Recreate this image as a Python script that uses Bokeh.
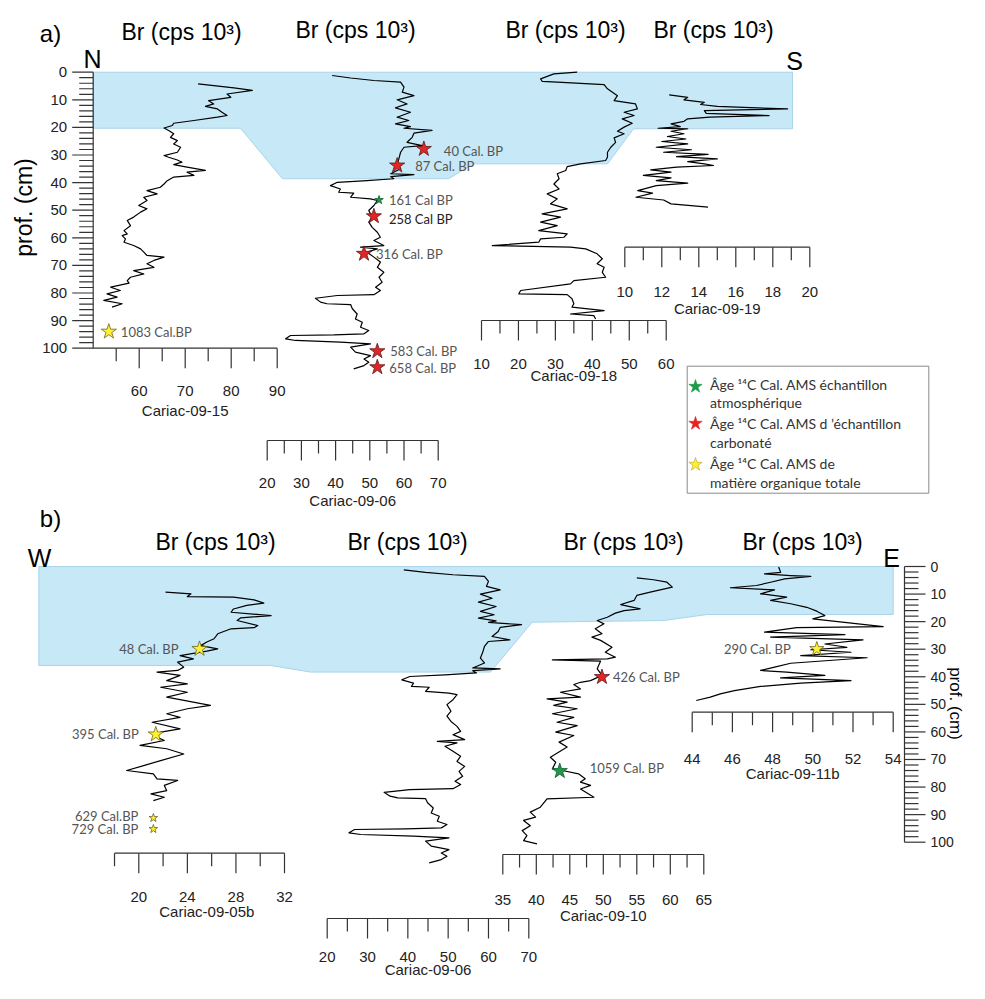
import math
from bokeh.plotting import figure
from bokeh.models import Range1d
from bokeh.embed import file_html
from bokeh.resources import INLINE
from bokeh.core.properties import value

# ---------------- DATA (depth in cm, Br in cps 10^3) ----------------
c15_depth = [4.2, 5.7, 6.6, 7.9, 9.1, 10.3, 11.5, 12.4, 13.3, 14.5, 15.7, 16.3, 17.5, 18.5, 19.3,
             20.2, 21.1, 22.3, 23.6, 24.8, 26.0, 27.2, 29.0, 30.2, 30.8, 31.8, 32.6, 33.5, 34.4, 35.6,
             36.2, 37.4, 38.0, 39.3, 40.5, 41.7, 42.9, 44.1, 45.3, 46.5, 48.3, 49.5, 50.7, 52.5, 53.7,
             55.6, 57.4, 58.6, 59.2, 60.4, 61.6, 62.8, 64.0, 65.2, 66.4, 67.0, 68.2, 69.4, 70.7, 71.9,
             73.1, 74.3, 75.5, 76.4, 77.9, 79.1, 80.3, 81.5, 82.7, 83.9, 85.1]
c15_br = [72.8, 80.6, 84.6, 79.1, 79.9, 75.1, 76.2, 74.4, 77.0, 78.0, 79.1, 77.0, 71.9, 67.5, 67.2,
          65.4, 66.4, 67.5, 66.8, 68.3, 67.5, 69.0, 68.3, 65.4, 66.4, 68.3, 69.3, 67.5, 70.4, 74.4,
          70.4, 71.9, 67.5, 66.1, 65.4, 64.6, 61.7, 63.9, 61.0, 61.7, 59.9, 61.7, 60.3, 58.8, 57.4,
          58.1, 56.7, 57.4, 56.3, 57.0, 56.7, 58.8, 60.3, 61.0, 61.7, 65.4, 63.2, 61.7, 63.2, 58.8,
          61.0, 58.1, 57.4, 57.8, 53.8, 55.9, 53.0, 55.2, 52.3, 56.3, 54.1]

c06_depth = [1.2, 2.1, 3.0, 3.6, 5.4, 7.2, 8.5, 10.0, 11.5, 12.9, 14.5, 16.3, 17.5, 18.7, 19.7,
             20.3, 21.1, 22.1, 23.6, 25.4, 26.6, 27.2, 29.0, 31.4, 33.2, 35.0, 36.8, 37.1, 37.8, 38.6,
             39.3, 39.9, 41.1, 42.3, 43.5, 43.8, 45.3, 45.9, 46.5, 48.3, 50.1, 52.5, 54.3, 56.2, 58.0,
             59.8, 61.0, 62.8, 63.4, 64.0, 65.2, 67.0, 68.8, 70.7, 72.5, 74.3, 76.1, 77.9, 79.1, 80.6,
             80.9, 81.9, 83.3, 83.9, 84.2, 85.7, 87.6, 89.4, 90.6, 92.4, 93.6, 94.8, 95.2, 95.4, 96.6,
             97.2, 97.8, 98.4, 99.6, 101.4, 102.7, 103.9, 105.1, 106.3, 107.5]
c06_br = [39.0, 44.4, 51.2, 59.0, 60.0, 59.5, 62.9, 58.0, 60.9, 57.5, 61.9, 58.0, 61.4, 57.5, 61.9,
          60.0, 68.2, 62.9, 62.4, 60.9, 65.3, 60.0, 59.0, 58.5, 58.0, 59.0, 56.1, 62.9, 56.1, 57.0,
          49.2, 40.5, 38.5, 41.4, 40.9, 45.3, 44.4, 50.2, 52.2, 51.2, 49.7, 50.7, 49.7, 50.7, 52.2,
          53.1, 51.2, 54.1, 47.3, 52.2, 49.2, 51.2, 53.1, 52.2, 54.1, 52.7, 53.6, 51.7, 53.1, 51.2,
          40.5, 34.1, 35.6, 37.5, 44.4, 44.9, 46.3, 45.8, 47.8, 47.3, 49.7, 48.3, 39.5, 26.8, 25.4,
          28.3, 41.4, 50.2, 44.4, 45.8, 50.2, 48.3, 49.7, 48.3, 45.3]

c18_depth = [0.0, 0.6, 2.4, 3.3, 3.6, 4.5, 6.0, 8.5, 10.3, 11.5, 13.3, 14.5, 15.7, 16.9, 18.5,
             19.9, 21.4, 22.3, 23.8, 25.4, 27.2, 29.0, 30.8, 32.0, 33.2, 34.2, 35.6, 36.8, 38.6, 40.5,
             42.3, 44.1, 45.9, 47.7, 49.5, 51.3, 52.5, 54.3, 55.6, 57.4, 58.6, 59.8, 60.4, 61.6, 62.8,
             63.4, 64.0, 65.8, 67.6, 69.4, 70.7, 72.5, 74.3, 75.5, 76.7, 79.1, 80.3, 80.6, 82.1, 83.9,
             85.1, 86.4, 87.6, 88.2, 89.4]
c18_br = [35.9, 29.6, 26.0, 26.4, 30.5, 43.2, 44.1, 46.8, 45.9, 51.7, 52.2, 48.6, 51.3, 48.1, 50.8,
          48.6, 46.8, 48.6, 45.9, 46.3, 45.0, 44.1, 44.1, 43.6, 36.8, 33.2, 32.8, 30.5, 31.0, 29.6,
          31.0, 27.8, 30.5, 28.7, 33.2, 26.4, 31.4, 26.0, 30.5, 25.5, 33.2, 32.3, 26.0, 25.5, 12.9,
          34.1, 38.2, 41.3, 42.7, 41.3, 43.2, 42.7, 43.6, 35.0, 34.1, 20.6, 20.1, 33.2, 34.5, 35.0,
          34.5, 43.2, 34.1, 40.4, 40.9]

c19_depth = [8.2, 9.1, 10.0, 10.9, 11.7, 12.4, 13.3, 13.9, 14.9, 15.7, 16.3, 16.9, 17.8, 18.7, 19.7,
             20.3, 20.5, 21.4, 22.3, 23.3, 24.2, 25.1, 26.0, 27.2, 28.1, 29.0, 29.8, 30.6, 31.4, 32.4,
             33.2, 33.8, 34.4, 35.4, 36.2, 37.4, 38.3, 39.3, 40.2, 41.1, 42.9, 43.8, 45.3, 46.3, 47.7,
             48.9]
c19_br = [12.4, 13.4, 13.2, 14.3, 14.1, 15.0, 18.8, 14.3, 14.4, 17.8, 14.6, 13.4, 13.2, 12.5, 13.0,
          11.8, 13.4, 12.5, 13.2, 12.3, 13.3, 12.0, 13.4, 11.7, 13.6, 12.1, 14.5, 12.8, 15.0, 13.4,
          14.3, 14.8, 12.8, 11.4, 12.5, 11.0, 12.5, 11.7, 13.4, 11.7, 10.7, 11.5, 10.6, 12.1, 12.5,
          14.5]

c05b_depth = [9.3, 9.9, 10.9, 11.1, 12.1, 13.3, 14.1, 15.4, 16.6, 17.8, 18.6, 19.6, 21.4, 22.2, 22.6,
              24.4, 26.2, 27.4, 28.7, 29.9, 30.7, 32.3, 33.5, 34.7, 36.5, 37.7, 38.3, 39.5, 41.4, 42.6,
              43.8, 45.6, 47.4, 50.4, 51.6, 53.4, 54.7, 56.5, 58.9, 60.1, 61.9, 63.1, 64.9, 66.1, 68.0,
              70.4, 72.2, 74.0, 75.2, 77.0, 77.6, 79.4, 81.3, 82.5, 83.7, 84.9]
c05b_br = [22.2, 24.3, 24.0, 27.8, 29.5, 30.3, 28.9, 27.8, 27.6, 30.9, 28.4, 28.1, 29.8, 29.5, 27.6,
           26.5, 26.2, 25.6, 25.1, 26.5, 25.6, 23.4, 24.5, 23.2, 23.7, 23.2, 21.5, 23.4, 22.3, 24.0,
           21.8, 24.0, 22.3, 25.9, 24.0, 22.3, 23.4, 21.1, 23.4, 21.8, 21.5, 22.1, 20.1, 22.3, 23.7,
           21.8, 20.4, 19.0, 21.2, 21.5, 23.2, 22.1, 22.3, 21.0, 22.1, 21.2]

c10_depth = [4.1, 4.8, 5.7, 7.5, 9.3, 10.5, 12.3, 13.8, 15.4, 16.0, 16.9, 18.4, 19.6, 20.8, 22.6,
             24.4, 25.6, 26.8, 29.3, 31.1, 32.9, 33.5, 33.9, 34.3, 35.9, 37.1, 39.5, 41.4, 42.0, 42.8,
             44.4, 45.6, 47.4, 48.0, 49.2, 50.4, 51.6, 53.4, 54.7, 56.5, 57.7, 60.1, 61.3, 63.7, 65.5,
             69.2, 71.0, 73.4, 74.0, 75.2, 77.0, 78.2, 79.4, 80.7, 83.7, 84.3, 87.3, 89.1, 90.9, 92.1,
             94.0, 95.8, 97.6, 99.4, 100.6]
c10_br = [55.0, 57.5, 59.5, 60.3, 57.0, 55.0, 54.6, 52.6, 55.5, 53.1, 51.8, 50.6, 49.1, 50.1, 48.8,
          49.8, 48.3, 49.6, 51.3, 50.3, 51.8, 50.6, 42.4, 49.6, 49.3, 49.1, 49.8, 48.1, 46.6, 45.6,
          46.6, 43.6, 46.6, 41.6, 44.6, 42.6, 46.1, 42.4, 45.6, 43.1, 46.1, 42.9, 45.6, 43.4, 44.6,
          42.1, 42.9, 42.4, 43.9, 46.3, 47.3, 46.6, 48.1, 46.6, 48.6, 41.6, 40.6, 39.1, 39.9, 38.1,
          39.1, 37.9, 38.6, 38.1, 40.1]

c11b_depth = [0.2, 2.1, 2.7, 3.3, 3.6, 4.5, 5.7, 6.9, 7.7, 8.5, 9.9, 11.1, 12.3, 13.5, 14.8,
              16.2, 17.8, 19.0, 21.8, 22.2, 23.8, 24.7, 25.6, 26.6, 28.1, 29.3, 30.2, 31.1, 32.3, 33.1,
              34.1, 35.1, 36.5, 37.7, 38.3, 39.5, 40.4, 41.4, 42.3, 43.5, 45.0, 46.2, 47.4, 48.6]
c11b_br = [48.3, 48.4, 47.6, 48.9, 49.9, 48.6, 47.9, 47.2, 45.9, 48.1, 47.4, 48.7, 47.9, 48.9, 49.7,
           50.2, 50.6, 50.0, 53.5, 49.2, 47.6, 51.6, 47.9, 52.5, 50.6, 51.7, 49.9, 51.9, 49.4, 52.7,
           50.8, 48.9, 48.1, 47.4, 48.7, 50.6, 48.4, 51.9, 49.4, 47.4, 46.1, 45.4, 44.9, 44.2]

# ---- radiocarbon ages: kind g = atmospheric, r = carbonate, y = total organic matter
age15_br, age15_depth, age15_lbl = [53.4], [94.0], ["1083 Cal.BP"]
age06_br = [65.8, 58.0, 52.7, 51.2, 48.3, 52.2, 52.2]
age06_depth = [27.8, 33.8, 46.3, 52.2, 65.8, 101.1, 106.9]
age06_lbl = ["40 Cal. BP", "87 Cal. BP", "161 Cal BP", "258 Cal BP", "316 Cal. BP", "583 Cal. BP", "658 Cal. BP"]
age06_kind = ["r", "r", "g", "r", "r", "r", "r"]
age05b_br = [25.0, 21.4, 21.2, 21.2]
age05b_depth = [29.9, 60.9, 91.2, 95.2]
age05b_lbl = ["48 Cal. BP", "395 Cal. BP", "629 Cal.BP", "729 Cal. BP"]
age10_br = [49.8, 43.5]
age10_depth = [40.1, 74.2]
age10_lbl = ["426 Cal. BP", "1059 Cal. BP"]
age11b_br, age11b_depth, age11b_lbl = [50.2], [29.9], ["290 Cal. BP"]

# ---- facies (blue) zones: depth of boundary vertices
zoneA_depth = [0, 0, 20.5, 20.5, 33.2, 33.2, 38.6, 38.6, 20.3, 20.3]
zoneB_depth = [0, 0, 17.4, 17.4, 19.6, 20.2, 38.3, 38.3, 35.9, 35.9]

# ---- tick values
depth_minor = list(range(0, 101, 2))
depth_major = list(range(0, 101, 10))
t15, m15 = [55, 60, 65, 70, 75, 80, 85, 90], [60, 70, 80, 90]
t06, m06 = [20, 25, 30, 35, 40, 45, 50, 55, 60, 65, 70], [20, 30, 40, 50, 60, 70]
t18, m18 = [10, 15, 20, 25, 30, 35, 40, 45, 50, 55, 60], [10, 20, 30, 40, 50, 60]
t19, m19 = [10, 11, 12, 13, 14, 15, 16, 17, 18, 19, 20], [10, 12, 14, 16, 18, 20]
t05b, m05b = [18, 20, 22, 24, 26, 28, 30, 32], [20, 24, 28, 32]
t10, m10 = [35, 37.5, 40, 42.5, 45, 47.5, 50, 52.5, 55, 57.5, 60, 62.5, 65], [35, 40, 45, 50, 55, 60, 65]
t11b, m11b = [44, 45, 46, 47, 48, 49, 50, 51, 52, 53, 54], [44, 46, 48, 50, 52, 54]

# ---------------- LAYOUT ----------------
W, H = 969, 983
O = 0  # canvas coordinates equal picture pixels


def rng(va, pa, vb, pb, n, flip=False):
    s = (vb - va) / (pb - pa)
    lo = va + (O - pa) * s
    hi = va + (O + n - pa) * s
    return Range1d(start=hi, end=lo) if flip else Range1d(start=lo, end=hi)


p = figure(width=W, height=H, x_range=Range1d(O, O + W), y_range=Range1d(O + H, O),
           output_backend="svg", toolbar_location=None, min_border=0,
           x_axis_location=None, y_axis_location=None)
p.grid.visible = False
p.outline_line_color = None
p.background_fill_color = "white"
p.border_fill_color = "white"

p.extra_x_ranges = {
    "x15": rng(50, 92.7, 90, 276.7, W),
    "x06a": rng(20, 266.7, 70, 437.7, W),
    "x18": rng(10, 481, 60, 665.7, W),
    "x19": rng(10, 624.3, 20, 809.3, W),
    "x05b": rng(20, 138.3, 32, 284, W),
    "x06b": rng(20, 326.7, 70, 528.3, W),
    "x10": rng(35, 502.3, 65, 703.3, W),
    "x11b": rng(44, 691.7, 54, 892.7, W),
}
p.extra_y_ranges = {
    "dA": rng(0, 71.7, 100, 347.7, H, flip=True),
    "dB": rng(0, 566, 100, 841.7, H, flip=True),
}

ARIAL = value("Liberation Sans")
CAL = value("Lato")
AX = "#333333"
BLUE, BLUE_EDGE = "#c7e8f6", "#a9d4ea"

# blue zones
p.patch(x=[92.7, 792, 792, 633, 607, 473, 448, 282, 240, 92.7], y=zoneA_depth, y_range_name="dA",
        fill_color=BLUE, line_color=BLUE_EDGE, line_width=1)
p.patch(x=[38.3, 892.7, 892.7, 707, 663, 531.7, 490, 310, 270, 38.3], y=zoneB_depth, y_range_name="dB",
        fill_color=BLUE, line_color=BLUE_EDGE, line_width=1)


def txt(x, y, t, size="15px", align="center", color="black", font=ARIAL, angle=0, **kw):
    p.text(x=x, y=y, text=t, text_font=font, text_font_size=size, text_align=align,
           text_baseline="middle", text_color=color, angle=angle, **kw)


def xaxis(rn, v0, v1, ticks, majors, ay, ly, title, tv, ty):
    p.segment(x0=[v0], y0=[ay], x1=[v1], y1=[ay], x_range_name=rn, line_color=AX, line_width=1.2)
    minors = [t for t in ticks if t not in majors]
    p.segment(x0=majors, y0=[ay] * len(majors), x1=majors, y1=[ay + 20] * len(majors),
              x_range_name=rn, line_color=AX, line_width=1.2)
    p.segment(x0=minors, y0=[ay] * len(minors), x1=minors, y1=[ay + 13] * len(minors),
              x_range_name=rn, line_color=AX, line_width=1.2)
    txt(majors, [ly] * len(majors), [str(int(m)) for m in majors], x_range_name=rn, color="#222222")
    txt([tv], [ty], [title], x_range_name=rn, color="#222222")


def daxis(rn, ax, side, lsize="15px", loff=26):
    sgn = -1 if side == "left" else 1
    p.segment(x0=[ax], y0=[0], x1=[ax], y1=[100], y_range_name=rn, line_color=AX, line_width=1.2)
    minors = [d for d in depth_minor if d not in depth_major]
    p.segment(x0=[ax] * len(depth_major), y0=depth_major, x1=[ax + sgn * 21] * len(depth_major),
              y1=depth_major, y_range_name=rn, line_color=AX, line_width=1.2)
    p.segment(x0=[ax] * len(minors), y0=minors, x1=[ax + sgn * 14] * len(minors),
              y1=minors, y_range_name=rn, line_color=AX, line_width=1.2)
    lx = ax + sgn * loff
    txt([lx] * len(depth_major), depth_major, [str(d) for d in depth_major], size=lsize,
        align="right" if side == "left" else "left", y_range_name=rn, color="#222222")


# axes
daxis("dA", 92.7, "left")
daxis("dB", 904, "right", lsize="14px", loff=26)
xaxis("x15", 50, 90, t15, m15, 347.7, 390, "Cariac-09-15", 70, 410)
xaxis("x06a", 20, 70, t06, m06, 440, 482, "Cariac-09-06", 45, 500)
xaxis("x18", 10, 60, t18, m18, 320, 363, "Cariac-09-18", 35, 375)
xaxis("x19", 10, 20, t19, m19, 246.7, 291.7, "Cariac-09-19", 15, 307.5)
xaxis("x05b", 18, 32, t05b, m05b, 852.7, 896.7, "Cariac-09-05b", 25.6, 910.7)
xaxis("x10", 35, 65, t10, m10, 854, 899.3, "Cariac-09-10", 50, 915)
xaxis("x06b", 20, 70, t06, m06, 918, 956, "Cariac-09-06", 45, 969)
xaxis("x11b", 44, 54, t11b, m11b, 711.7, 758.3, "Cariac-09-11b", 49, 773.3)

# curves
for br, dp, rx, ry in [(c15_br, c15_depth, "x15", "dA"), (c06_br, c06_depth, "x06a", "dA"),
                       (c18_br, c18_depth, "x18", "dA"), (c19_br, c19_depth, "x19", "dA"),
                       (c05b_br, c05b_depth, "x05b", "dB"), (c06_br, c06_depth, "x06b", "dB"),
                       (c10_br, c10_depth, "x10", "dB"), (c11b_br, c11b_depth, "x11b", "dB")]:
    p.line(x=br, y=dp, x_range_name=rx, y_range_name=ry, line_color="black", line_width=1.2,
           line_join="round")

COL = {"r": ("#e32526", "#5c1a1a"), "g": ("#1f9a4b", "#0f5a2a"), "y": ("#fff034", "#6f6420")}


def star(x, y, kind, size, rx, ry):
    f, l = COL[kind]
    p.scatter(x=x, y=y, marker="star", size=size, fill_color=f, line_color=l, line_width=0.8,
              x_range_name=rx, y_range_name=ry)


def lab(x, y, t, rx, ry, dx, dy=0, align="left", color="#555555"):
    p.text(x=x, y=y, text=t, x_offset=dx, y_offset=dy, text_font=CAL, text_font_size="13px",
           text_align=align, text_baseline="middle", text_color=color, x_range_name=rx, y_range_name=ry)


# ages panel a
star(age15_br, age15_depth, "y", 16, "x15", "dA")
lab(age15_br, age15_depth, age15_lbl, "x15", "dA", 12)
for i in range(len(age06_br)):
    sz = 9 if age06_kind[i] == "g" else 16
    star([age06_br[i]], [age06_depth[i]], age06_kind[i], sz, "x06a", "dA")
offs06 = [20, 18, 10, 15, 12, 13, 12]
dys06 = [2, 1, 0, 3, 0, 0, 1]
for i in range(len(age06_br)):
    lab([age06_br[i]], [age06_depth[i]], [age06_lbl[i]], "x06a", "dA", offs06[i], dys06[i],
        color="#222222" if age06_lbl[i].startswith("258") else "#555555")

# ages panel b
sizes05 = [16, 16, 9, 9]
offs05 = [-21, -17, -15, -15]
dys05 = [0, 0, -2, 0]
for i in range(len(age05b_br)):
    star([age05b_br[i]], [age05b_depth[i]], "y", sizes05[i], "x05b", "dB")
    lab([age05b_br[i]], [age05b_depth[i]], [age05b_lbl[i]], "x05b", "dB", offs05[i], dys05[i], align="right")
star([age10_br[0]], [age10_depth[0]], "r", 16, "x10", "dB")
star([age10_br[1]], [age10_depth[1]], "g", 16, "x10", "dB")
lab([age10_br[0]], [age10_depth[0]], [age10_lbl[0]], "x10", "dB", 11)
lab([age10_br[1]], [age10_depth[1]], [age10_lbl[1]], "x10", "dB", 30, -3)
star(age11b_br, age11b_depth, "y", 15, "x11b", "dB")
lab(age11b_br, age11b_depth, age11b_lbl, "x11b", "dB", -26, align="right")

# titles / orientation letters
BR = "Br (cps 10³)"
txt([181, 355, 565, 713], [31, 29, 29, 29], [BR] * 4, size="23px")
txt([215, 407, 623, 802], [541, 541, 541, 541], [BR] * 4, size="23px")
txt([50], [33], ["a)"], size="24px")
txt([50], [518], ["b)"], size="24px")
txt([92], [58], ["N"], size="25px")
txt([794], [60], ["S"], size="25px")
txt([39], [557], ["W"], size="25px")
txt([891], [557], ["E"], size="25px")
txt([23], [207], ["prof. (cm)"], size="23px", angle=math.pi / 2)
txt([955], [703], ["prof. (cm)"], size="17px", angle=-math.pi / 2)

# legend
p.quad(left=[686.7], right=[928.3], top=[365.7], bottom=[492.7], fill_color="white",
       line_color="#8a8a8a", line_width=1)
p.scatter(x=[695, 695, 695], y=[386, 423, 464], marker="star", size=[14, 14, 14],
          fill_color=[COL["g"][0], COL["r"][0], COL["y"][0]],
          line_color=[COL["g"][0], COL["r"][0], "#b0a030"], line_width=0.6)
leg_lines = ["Âge ¹⁴C Cal. AMS échantillon", "atmosphérique",
             "Âge ¹⁴C Cal. AMS d ’échantillon", "carbonaté",
             "Âge ¹⁴C Cal. AMS de", "matière organique totale"]
txt([709.5] * 6, [384, 402, 423, 442, 463, 482], leg_lines, size="14px", align="left",
    color="#333333", font=CAL)

open("out.html", "w").write(file_html(p, INLINE))
